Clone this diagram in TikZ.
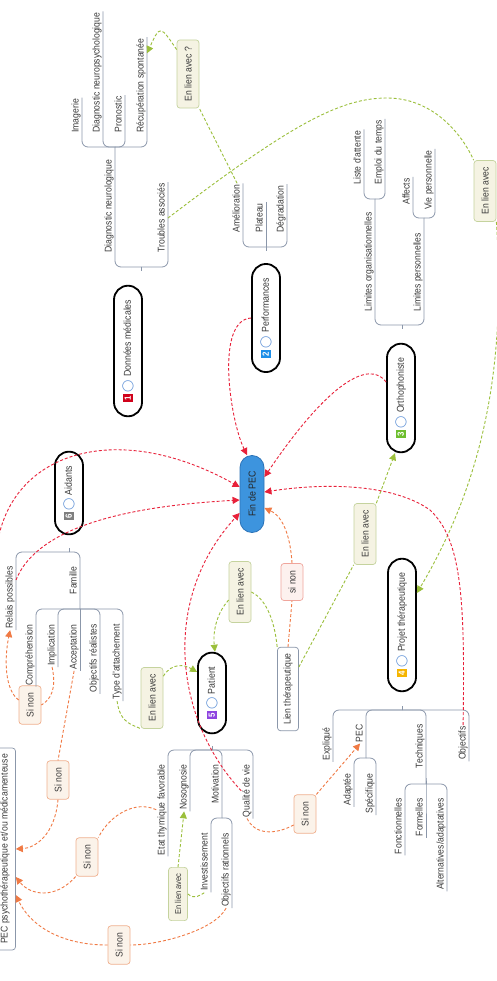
\documentclass[tikz,border=0pt]{standalone}
\usepackage{fontspec}
\setmainfont{Liberation Sans}[FakeStretch=0.88]
\newfontfamily\symfont{DejaVu Sans}
\usetikzlibrary{arrows.meta}
\definecolor{branchgray}{HTML}{8B97AA}
\definecolor{leaftext}{HTML}{3A3A3A}
\definecolor{relgreen}{HTML}{9BBF3B}
\definecolor{relred}{HTML}{E8213A}
\definecolor{relorange}{HTML}{F07A45}
\definecolor{boxgreen}{HTML}{C5D39E}
\definecolor{boxbeige}{HTML}{F5F3E3}
\definecolor{boxorange}{HTML}{F0B08E}
\definecolor{boxcream}{HTML}{FBF3EA}
\definecolor{boxpink}{HTML}{F0A59C}
\definecolor{boxrose}{HTML}{FDF1EE}
\definecolor{finblue}{HTML}{3D94DE}
\definecolor{finborder}{HTML}{2C73B8}
\definecolor{ringblue}{HTML}{5B8FD6}
\definecolor{badgered}{HTML}{D0021B}
\definecolor{badgeblue}{HTML}{1E8FE8}
\definecolor{badgegreen}{HTML}{6DBE2E}
\definecolor{badgeyellow}{HTML}{F5B500}
\definecolor{badgepurple}{HTML}{8E44E0}
\definecolor{badgegray}{HTML}{7F7F7F}
\setlength{\fboxsep}{1.8pt}
\newcommand{\numbadge}[2]{\colorbox{#1}{\textcolor{white}{\bfseries\fontsize{9}{9}\selectfont #2}}}
\newcommand{\ringmark}{\textcolor{ringblue}{\symfont\fontsize{11}{11}\selectfont ◯}}
\tikzset{
  branch/.style={draw=branchgray, line width=0.8pt, rounded corners=6pt},
  leaf/.style={rotate=90, anchor=south west, inner sep=1.2pt, text=leaftext, font=\fontsize{9.8}{11}\selectfont, text height=7pt, text depth=2pt},
  leafr/.style={leaf, anchor=south east},
  mainnode/.style={draw, line width=1.8pt, fill=white, rounded corners=14pt, rotate=90, minimum height=28pt, inner xsep=14pt, text=leaftext, font=\fontsize{10}{12}\selectfont},
  finnode/.style={draw=finborder, line width=0.8pt, fill=finblue, rounded corners=12pt, rotate=90, minimum height=24pt, inner xsep=16pt, text=black!85, font=\fontsize{10}{12}\selectfont},
  topicbox/.style={draw=branchgray, line width=0.7pt, fill=white, rounded corners=3pt, rotate=90, minimum height=21pt, inner xsep=6pt, text=leaftext, font=\fontsize{9.8}{11}\selectfont},
  relbox/.style={rotate=90, rounded corners=3pt, line width=0.7pt, minimum height=22pt, inner xsep=7pt, text=leaftext, font=\fontsize{9.8}{11}\selectfont},
  greenbox/.style={relbox, draw=boxgreen, fill=boxbeige},
  orangebox/.style={relbox, draw=boxorange, fill=boxcream},
  pinkbox/.style={relbox, draw=boxpink, fill=boxrose},
  rel/.style={line width=0.9pt, dash pattern=on 3pt off 2pt},
  greenrel/.style={rel, draw=relgreen},
  greenarrow/.style={greenrel, -{Triangle[length=7pt,width=7pt]}},
  orangerel/.style={rel, draw=relorange},
  orangearrow/.style={orangerel, -{Triangle[length=7pt,width=7pt]}},
  redarrow/.style={rel, draw=relred, -{Triangle[length=7pt,width=7pt]}}
}

\begin{document}
\begin{tikzpicture}[x=1pt, y=-1pt]
\useasboundingbox (0,0) rectangle (497,981);
\fill[white] (0,0) rectangle (497,981);

\node[mainnode] (dmed) at (128,351) {\numbadge{badgered}{1}\hspace{2pt}\ringmark\hspace{3pt}Données médicales};
\node[mainnode] (perf) at (266,318) {\numbadge{badgeblue}{2}\hspace{2pt}\ringmark\hspace{3pt}Performances};
\node[mainnode] (ortho) at (401,398) {\numbadge{badgegreen}{3}\hspace{2pt}\ringmark\hspace{3pt}Orthophoniste};
\node[mainnode] (projet) at (402,625) {\numbadge{badgeyellow}{4}\hspace{2pt}\ringmark\hspace{3pt}Projet thérapeutique};
\node[mainnode] (patient) at (212,693) {\numbadge{badgepurple}{5}\hspace{2pt}\ringmark\hspace{3pt}Patient};
\node[mainnode] (aidants) at (69,493) {\numbadge{badgegray}{6}\hspace{2pt}\ringmark\hspace{3pt}Aidants};
\node[finnode] (fin) at (252,494) {Fin de PEC};
\node[topicbox] (lienT) at (288,689) {Lien thérapeutique};
\node[topicbox] (pecpsy) at (5,849) {PEC psychothérapeutique et/ou médicamenteuse};

\node[greenbox] (lienQ) at (188,74) {En lien avec ?};
\node[greenbox] (lienR) at (485,191) {En lien avec};
\node[greenbox] (lienA) at (152,698) {En lien avec};
\node[greenbox] (lienB) at (240,592) {En lien avec};
\node[greenbox] (lienC) at (365,534) {En lien avec};
\node[greenbox, minimum height=19pt, inner xsep=6pt, font=\fontsize{8.6}{10}\selectfont] (lienS) at (178,894) {En lien avec};
\node[orangebox] (sinon1) at (30,705) {Si non};
\node[orangebox] (sinon2) at (58,780) {Si non};
\node[orangebox] (sinon3) at (87,857) {Si non};
\node[orangebox] (sinon4) at (119,945) {Si non};
\node[orangebox] (sinon5) at (305,814) {Si non};
\node[pinkbox] (sinonF) at (292,582) {si non};

\node[leaf] (imag) at (82,134) {Imagerie};
\node[leaf] (dnpsy) at (103,134) {Diagnostic neuropsychologique};
\node[leaf] (pronos) at (125,134) {Pronostic};
\node[leaf] (recup) at (147,134) {Récupération spontanée};
\node[leaf] (dneuro) at (115,254) {Diagnostic neurologique};
\node[leaf] (troub) at (168,254) {Troubles associés};
\node[leaf] (amelio) at (243,234) {Amélioration};
\node[leaf] (plateau) at (266,234) {Plateau};
\node[leaf] (degrad) at (287,234) {Dégradation};
\node[leaf] (liste) at (364,186) {Liste d'attente};
\node[leaf] (emploi) at (385,186) {Emploi du temps};
\node[leaf] (affects) at (413,206) {Affects};
\node[leaf] (viep) at (435,211) {Vie personnelle};
\node[leaf] (limorg) at (375,313) {Limites organisationnelles};
\node[leaf] (limpers) at (424,313) {Limites personnelles};

\node[leafr] (relais) at (16,565) {Relais possibles};
\node[leafr] (famille) at (80,565) {Famille};
\node[leafr] (compr) at (36,623) {Compréhension};
\node[leafr] (implic) at (58,623) {Implication};
\node[leafr] (accept) at (80,623) {Acceptation};
\node[leafr] (objreal) at (100,623) {Objectifs réalistes};
\node[leafr] (typeatt) at (123,623) {Type d'attachement};
\node[leafr] (etat) at (168,763) {Etat thymique favorable};
\node[leafr] (nosog) at (190,763) {Nosognosie};
\node[leafr] (motiv) at (222,763) {Motivation};
\node[leafr] (qualite) at (253,763) {Qualité de vie};
\node[leafr] (invest) at (211,832) {Investissement};
\node[leafr] (objrat) at (232,832) {Objectifs rationnels};
\node[leafr] (expl) at (333,726) {Expliqué};
\node[leafr] (pec) at (366,723) {PEC};
\node[leafr] (techn) at (426,723) {Techniques};
\node[leafr] (objec) at (469,725) {Objectifs};
\node[leafr] (adapt) at (354,772) {Adaptée};
\node[leafr] (specif) at (376,772) {Spécifique};
\node[leafr] (fonct) at (405,797) {Fonctionnelles};
\node[leafr] (formel) at (426,797) {Formelles};
\node[leafr] (altern) at (447,797) {Alternatives/adaptatives};

\coordinate (bDM) at (141,267);
\coordinate (bDN) at (115,147);
\coordinate (bPf) at (266,247);
\coordinate (bOr) at (402,325);
\coordinate (bLO) at (375,199);
\coordinate (bLP) at (424,218);
\coordinate (bAi) at (69,552);
\coordinate (bFa) at (80,609);
\coordinate (bPa) at (212,750);
\coordinate (bMo) at (222,818);
\coordinate (bPj) at (402,710);
\coordinate (bPE) at (366,758);
\coordinate (bTe) at (426,784);
\coordinate (offl) at (-2,540);

\draw[branch] (bDN) |- (bDM);
\draw[branch] (troub.south east) |- (bDM);
\draw[branch] (bDM) -- ++(0,4);
\draw[branch] (imag.south east) |- (bDN);
\draw[branch] (dnpsy.south east) |- (bDN);
\draw[branch] (pronos.south east) |- (bDN);
\draw[branch] (recup.south east) |- (bDN);
\draw[branch] (amelio.south east) |- (bPf);
\draw[branch] (plateau.south east) -- (bPf);
\draw[branch] (degrad.south east) |- (bPf);
\draw[branch] (bPf) -- ++(0,4);
\draw[branch] (bLO) |- (bOr);
\draw[branch] (bLP) |- (bOr);
\draw[branch] (bOr) -- ++(0,4);
\draw[branch] (liste.south east) |- (bLO);
\draw[branch] (emploi.south east) |- (bLO);
\draw[branch] (affects.south east) |- (bLP);
\draw[branch] (viep.south east) |- (bLP);
\draw[branch] (relais.south west) |- (bAi);
\draw[branch] (bFa) |- (bAi);
\draw[branch] (bAi) -- ++(0,-4);
\draw[branch] (compr.south west) |- (bFa);
\draw[branch] (implic.south west) |- (bFa);
\draw[branch] (accept.south west) -- (bFa);
\draw[branch] (objreal.south west) |- (bFa);
\draw[branch] (typeatt.south west) |- (bFa);
\draw[branch] (etat.south west) |- (bPa);
\draw[branch] (nosog.south west) |- (bPa);
\draw[branch] (bMo) |- (bPa);
\draw[branch] (qualite.south west) |- (bPa);
\draw[branch] (bPa) -- ++(0,-4);
\draw[branch] (invest.south west) |- (bMo);
\draw[branch] (objrat.south west) |- (bMo);
\draw[branch] (expl.south west) |- (bPj);
\draw[branch] (bPE) |- (bPj);
\draw[branch] (bTe) |- (bPj);
\draw[branch] (objec.south west) |- (bPj);
\draw[branch] (bPj) -- ++(0,-4);
\draw[branch] (adapt.south west) |- (bPE);
\draw[branch] (specif.south west) |- (bPE);
\draw[branch] (fonct.south west) |- (bTe);
\draw[branch] (formel.south west) |- (bTe);
\draw[branch] (altern.south west) |- (bTe);

\draw[greenrel] (amelio.east) -- (lienQ.south west);
\draw[greenarrow] ([yshift=-10pt]lienQ.north east) .. controls (160,25) .. ([yshift=-16pt]recup.south east);
\draw[greenrel] (troub.south) .. controls (290,125) and (340,98) .. (387,98) .. controls (430,98) and (460,130) .. (lienR.north east);
\draw[greenarrow] (lienR.south west) .. controls (505,350) and (490,470) .. ([yshift=32pt]projet.south);
\draw[greenrel] (typeatt.west) .. controls (120,725) and (135,725) .. (lienA.north west);
\draw[greenarrow] ([yshift=-9pt]lienA.south east) .. controls (172,662) and (185,665) .. ([yshift=21pt]patient.north);
\draw[greenarrow] ([yshift=-8pt]lienB.north) .. controls (215,615) and (213,635) .. ([xshift=3pt]patient.east);
\draw[greenrel] (lienB.south) .. controls (268,600) and (275,625) .. (lienT.north east);
\draw[greenrel] ([yshift=22pt]lienT.south) -- (lienC.north west);
\draw[greenarrow] (lienC.south east) -- ([xshift=-6pt]ortho.west);
\draw[greenrel] (lienS.south) .. controls (195,900) and (200,895) .. (invest.west);
\draw[greenarrow] (lienS.east) -- (nosog.west);

\draw[orangearrow] ([yshift=5pt]sinon1.north) .. controls (5,690) and (4,660) .. (relais.west);
\draw[orangerel] (implic.west) .. controls (57,690) and (50,700) .. (sinon1.south);
\draw[orangerel] (accept.west) -- (sinon2.east);
\draw[orangearrow] (sinon2.west) .. controls (55,835) and (35,848) .. (pecpsy.south);
\draw[orangerel] (etat.north) .. controls (135,800) and (110,815) .. (sinon3.south east);
\draw[orangearrow] (sinon3.north west) .. controls (55,900) and (30,895) .. ([yshift=-28pt]pecpsy.south);
\draw[orangerel] (objrat.west) .. controls (215,930) and (160,945) .. (sinon4.south);
\draw[orangearrow] (sinon4.north) .. controls (60,945) and (30,925) .. ([yshift=-46pt]pecpsy.south);
\draw[orangerel] (qualite.west) .. controls (255,835) and (275,835) .. ([yshift=-11pt]sinon5.north);
\draw[orangearrow] (sinon5.south east) -- (pec.west);
\draw[orangearrow] (sinonF.east) .. controls (290,530) and (280,515) .. ([yshift=-14pt]fin.south);
\draw[orangerel] (lienT.east) -- (sinonF.west);

\draw[redarrow] (perf.north) .. controls (215,320) and (230,420) .. ([xshift=-5pt]fin.east);
\draw[redarrow] ([yshift=16pt]ortho.north) .. controls (370,360) and (330,380) .. ([yshift=17pt]fin.south);
\draw[redarrow] (objec.east) .. controls (465,600) and (462,540) .. (430,510) .. controls (395,485) and (330,482) .. ([yshift=2pt]fin.south);
\draw[redarrow] (offl) .. controls (15,450) and (120,420) .. ([yshift=7pt]fin.north);
\draw[redarrow] ([yshift=-15pt]relais.south east) .. controls (40,520) and (150,505) .. ([yshift=-6pt]fin.north);
\draw[redarrow] (qualite.north) .. controls (175,720) and (160,600) .. ([yshift=-19pt]fin.north);
\end{tikzpicture}
\end{document}
